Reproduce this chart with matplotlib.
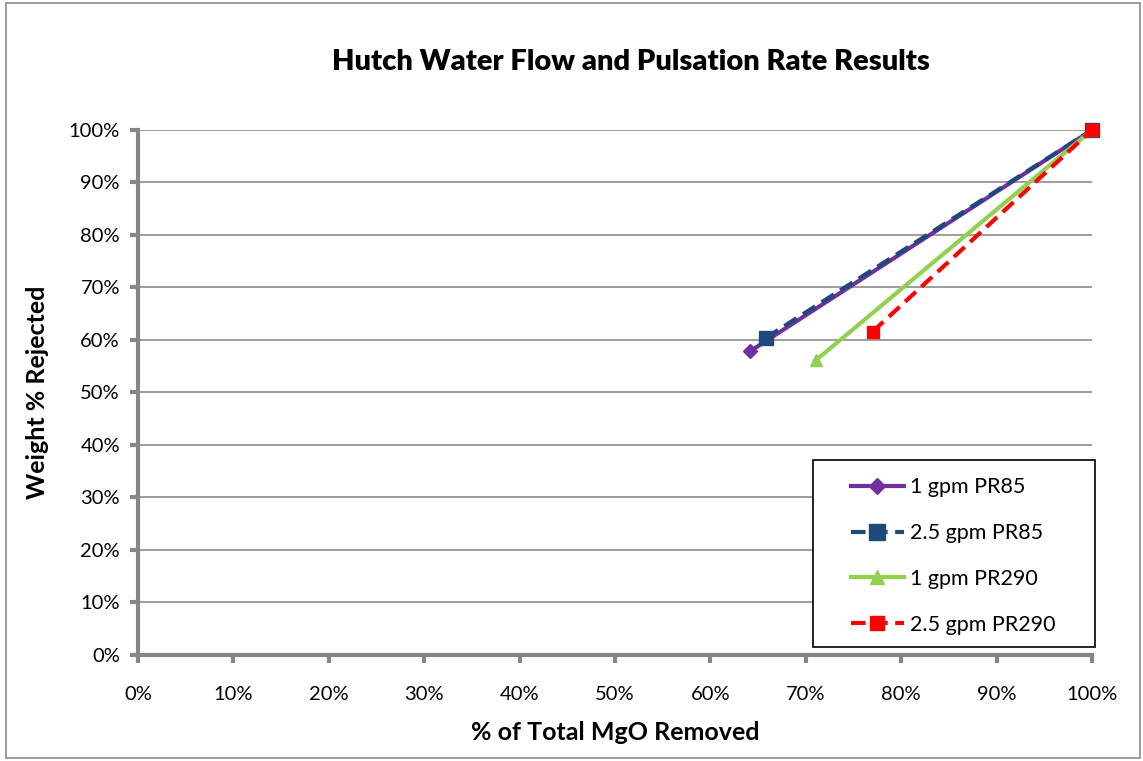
import matplotlib.pyplot as plt
from matplotlib.ticker import PercentFormatter, MultipleLocator
from matplotlib.patches import Rectangle

plt.rcParams['font.family'] = ['Lato', 'DejaVu Sans']

# % of total MgO removed (x) vs weight % rejected (y)
series_names = ['1 gpm PR85', '2.5 gpm PR85', '1 gpm PR290', '2.5 gpm PR290']
mgo_removed = [
    [64.2, 100.0],
    [65.8, 100.0],
    [71.1, 100.0],
    [77.0, 100.0],
]
weight_rejected = [
    [57.9, 100.0],
    [60.4, 100.0],
    [56.2, 100.0],
    [61.6, 100.0],
]

colors = ['#7030A0', '#1F497D', '#92D050', '#FF0000']
markers = ['D', 's', '^', 's']
msizes = [7, 10, 9, 9]
styles = ['-', (0, (3.5, 1.8)), '-', (0, (3.5, 1.8))]

fig = plt.figure(figsize=(11.43, 7.61), dpi=100)
ax = fig.add_axes([0.1207, 0.1393, 0.8347, 0.6899])

for name, xs, ys, c, m, ms, ls in zip(series_names, mgo_removed, weight_rejected,
                                      colors, markers, msizes, styles):
    ax.plot(xs, ys, color=c, marker=m, markersize=ms, linestyle=ls, linewidth=3,
            label=name, clip_on=False, zorder=3)

ax.set_xlim(0, 100)
ax.set_ylim(0, 100)
ax.xaxis.set_major_locator(MultipleLocator(10))
ax.yaxis.set_major_locator(MultipleLocator(10))
ax.xaxis.set_major_formatter(PercentFormatter(decimals=0))
ax.yaxis.set_major_formatter(PercentFormatter(decimals=0))
ax.grid(axis='y', color='#8c8c8c', linewidth=1.2)
ax.set_axisbelow(True)

for s in ['top', 'right']:
    ax.spines[s].set_visible(False)
for s in ['left', 'bottom']:
    ax.spines[s].set_color('#868686')
    ax.spines[s].set_linewidth(3)
ax.tick_params(axis='both', colors='#868686', width=3, length=6, labelsize=14.5,
               labelcolor='black')
ax.tick_params(axis='x', pad=16)
ax.tick_params(axis='y', pad=7)

ax.set_xlabel('% of Total MgO Removed', fontsize=18, fontweight='bold', labelpad=13)
ax.set_ylabel('Weight % Rejected', fontsize=18, fontweight='bold', labelpad=14)
fig.text(0.552, 0.918, 'Hutch Water Flow and Pulsation Rate Results',
         fontsize=21, fontweight='heavy', ha='center', va='center')

# legend entries without their own frame; the box is drawn separately
leg = ax.legend(loc='upper left', bbox_to_anchor=(0.736, 0.359), fontsize=15.5,
                frameon=False, handlelength=2.45, labelspacing=1.2, borderpad=0,
                handletextpad=0.3, markerscale=1.1)
leg.set_zorder(6)
ax.add_patch(Rectangle((813 / 1143, 1 - 647 / 761), 282 / 1143, 187 / 761,
                       transform=fig.transFigure, facecolor='white',
                       edgecolor='black', linewidth=1.2, zorder=5, clip_on=False))

fig.patches.append(Rectangle((0.005, 0.004), 0.992, 0.992, transform=fig.transFigure,
                             fill=False, edgecolor='#8c8c8c', linewidth=1.2))

fig.savefig('out.png', dpi=100)
